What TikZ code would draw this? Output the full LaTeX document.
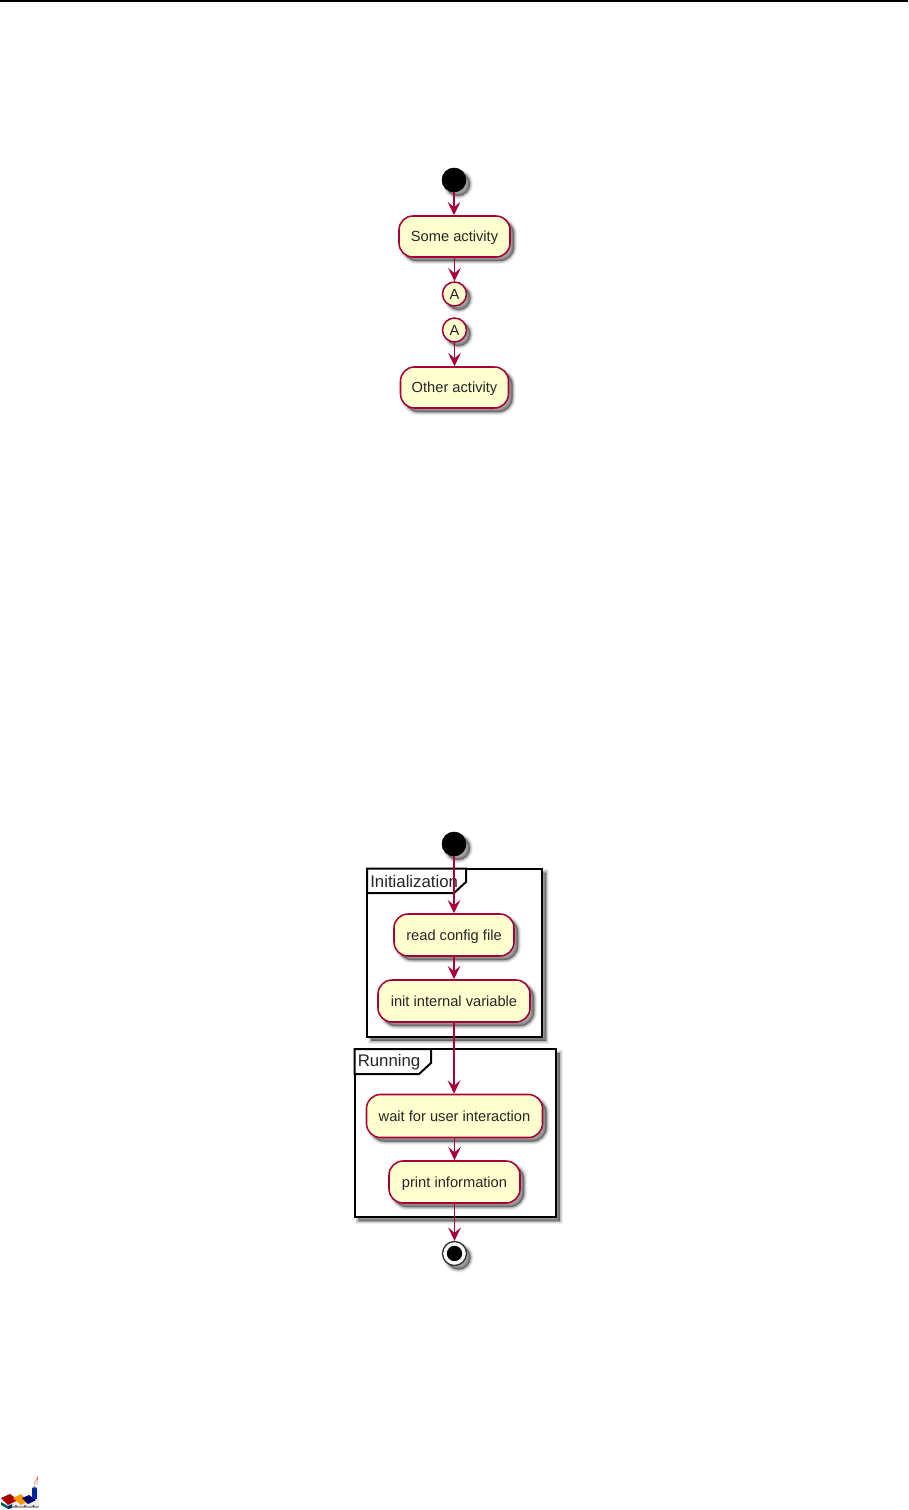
\documentclass[tikz,border=0pt]{standalone}
\usepackage{fontspec}
\setmainfont{Liberation Sans}
\usetikzlibrary{arrows.meta}
\definecolor{puml}{HTML}{A80036}
\definecolor{pumlfill}{HTML}{FEFECE}
\tikzset{
  softshadow/.style={
    preaction={draw=black,fill=black,opacity=.07,line width=4.6pt,transform canvas={shift={(3pt,-3pt)}}},
    preaction={draw=black,fill=black,opacity=.09,line width=3.2pt,transform canvas={shift={(3pt,-3pt)}}},
    preaction={draw=black,fill=black,opacity=.12,line width=1.9pt,transform canvas={shift={(3pt,-3pt)}}},
    preaction={draw=black,fill=black,opacity=.14,line width=.7pt,transform canvas={shift={(3pt,-3pt)}}},
  },
  act/.style 2 args={draw=puml,fill=pumlfill,line width=1.15pt,rectangle,rounded corners=10.5pt,softshadow,
    minimum width=#1*0.75pt,minimum height=#2*0.75pt,inner sep=0pt,text height=9pt,text depth=.8pt,
    font=\fontsize{11pt}{12pt}\selectfont,text=black!85},
  conn/.style={draw=puml,fill=pumlfill,line width=1.15pt,circle,softshadow,minimum size=18pt,inner sep=0pt,
    text height=8.4pt,text depth=.8pt,font=\fontsize{11pt}{12pt}\selectfont,text=black!85},
  startdot/.style={fill=black,draw=black,circle,softshadow,minimum size=18pt,inner sep=0pt},
  enddot/.style={fill=white,draw=black!80,line width=1pt,circle,softshadow,minimum size=18pt,inner sep=0pt},
  endcore/.style={fill=black,circle,minimum size=11.5pt,inner sep=0pt},
  framebox/.style={draw=black,fill=white,line width=1.5pt,softshadow,outer sep=0pt,inner sep=0pt},
  frametab/.style={draw=black,line width=1.5pt,fill=white,line join=miter},
  framelabel/.style={anchor=west,inner sep=0pt,font=\fontsize{12.6pt}{14pt}\selectfont,text=black!85},
  flow/.style={draw=puml,line width=1.2pt,-{Stealth[length=10pt,width=9.5pt,inset=4pt,fill=puml]}},
}
\begin{document}
\begin{tikzpicture}[x=0.75pt,y=-0.75pt]
\path[use as bounding box,fill=white] (0,0) rectangle (908,1510);
\draw[black,line width=1pt] (0,1) -- (908,1);

% first diagram
\node[startdot] (s1) at (454,180) {};
\node[act={111}{41}] (some) at (454.5,236.5) {Some activity};
\node[conn] (a1) at (454.5,294) {A};
\node[conn] (a2) at (454.5,330) {A};
\node[act={108}{41}] (other) at (454.5,387.5) {Other activity};
\draw[flow] (s1) -- (s1|-some.north);
\draw[flow] (some) -- (a1);
\draw[flow] (a2) -- (other);

% second diagram: partitions
\node[framebox,minimum width=175*0.75pt,minimum height=168*0.75pt] (init) at (454.5,952.5) {};
\draw[frametab] (init.north west) -- (466,868.5) -- (466,882) -- (454,893) -- (367,893) -- cycle;
\node[framelabel] (initl) at (370,881.5) {Initialization};
\node[framebox,minimum width=201*0.75pt,minimum height=168*0.75pt] (run) at (455,1133) {};
\draw[frametab] (run.north west) -- (431,1049) -- (431,1063) -- (419,1074) -- (354.5,1074) -- cycle;
\node[framelabel] (runl) at (357.5,1062.5) {Running};

\node[startdot] (s2) at (454,844) {};
\node[act={120}{42}] (read) at (454,935) {read config file};
\node[act={152}{42}] (intv) at (454,1001) {init internal variable};
\node[act={176}{43}] (wait) at (454.5,1116) {wait for user interaction};
\node[act={131}{42}] (print) at (454.5,1182) {print information};
\node[enddot] (e2) at (454.5,1253.5) {};
\node[endcore] (e2c) at (454.5,1253.5) {};
\draw[flow] (s2) -- (s2|-read.north);
\draw[flow] (read) -- (read|-intv.north);
\draw[flow] (intv) -- (intv|-wait.north);
\draw[flow] (wait) -- (wait|-print.north);
\draw[flow] (print) -- (e2);

% logo
\fill[white!85!gray] (12,1507) -- (39,1507) -- (39,1490) -- (32,1490) -- (32,1499) -- (12,1499) -- cycle;
\fill[gray!70] (12,1505.5) rectangle (39,1508);
\fill[black!70] (16,1506) circle (1.1) (25,1506) circle (1.1) (33.5,1506) circle (1.1);
\fill[teal!75!black] (1,1502) -- (8,1506) -- (8,1509) -- (1,1505) -- cycle;
\fill[blue!35!black!70!teal] (8,1506) -- (12,1504) -- (12,1508) -- (8,1509) -- cycle;
\fill[red!65!black] (1,1498) -- (10,1494) -- (18,1500) -- (8,1505) -- cycle;
\fill[orange!80!yellow] (13,1498) -- (21,1494) -- (28,1501) -- (21,1505) -- cycle;
\fill[blue!40!black] (22,1498) -- (29,1495) -- (36,1500) -- (28,1504) -- cycle;
\fill[blue!60!teal!75!black] (32,1488) -- (37,1488) -- (37,1499) -- (32,1499) -- cycle;
\fill[gray] (32,1488) -- (34.5,1486) -- (37,1488) -- cycle;
\draw[red!70!white,line width=.35pt] (35,1485) .. controls (33,1482) and (37,1480) .. (38,1476) .. controls (37,1480) and (37,1482) .. (37,1485);
\end{tikzpicture}
\end{document}
